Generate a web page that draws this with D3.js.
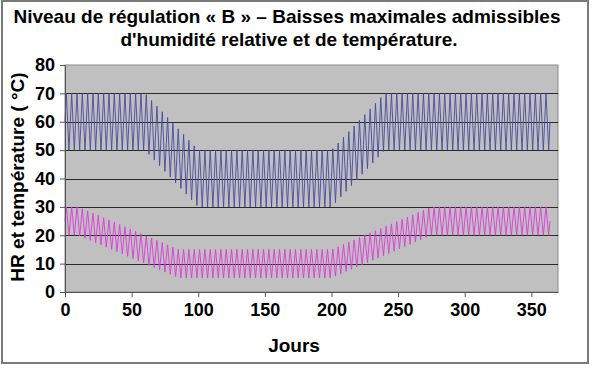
<!DOCTYPE html>
<html>
<head>
<meta charset="utf-8">
<script src="https://cdn.jsdelivr.net/npm/d3@7"></script>
<style>
  body { margin: 0; background: white; }
  svg text { font-family: "Liberation Sans", Arial, sans-serif; font-weight: bold; fill: black; }
</style>
</head>
<body>
<div class="chart"></div>
<script>
const titleLines = ['Niveau de régulation « B » – Baisses maximales admissibles', "d'humidité relative et de température."];
const xTicks = [0, 50, 100, 150, 200, 250, 300, 350];
const yTicks = [0, 10, 20, 30, 40, 50, 60, 70, 80];

// HR (%) jour par jour
const hr = [
  60,70,60,50,60,70,60,50,60,70,60,50,60,70,60,50,60,70,60,50,
  60,70,60,50,60,70,60,50,60,70,60,50,60,70,60,50,60,70,60,50,
  60,70,60,50,60,70,60,50,60,70,60,50,60,70,60,50,60,70,60,50,
  60,69.5,59,48.5,58,67.5,57,46.5,56,65.5,55,44.5,54,63.5,53,42.5,52,61.5,51,40.5,
  50,59.5,49,38.5,48,57.5,47,36.5,46,55.5,45,34.5,44,53.5,43,32.5,42,51.5,41,30.5,
  40,50,40,30,40,50,40,30,40,50,40,30,40,50,40,30,40,50,40,30,
  40,50,40,30,40,50,40,30,40,50,40,30,40,50,40,30,40,50,40,30,
  40,50,40,30,40,50,40,30,40,50,40,30,40,50,40,30,40,50,40,30,
  40,50,40,30,40,50,40,30,40,50,40,30,40,50,40,30,40,50,40,30,
  40,50,40,30,40,50,40,30,40,50,40,30,40,50,40,30,40,50,40,30,
  40,50.5,41,31.5,42,52.5,43,33.5,44,54.5,45,35.5,46,56.5,47,37.5,48,58.5,49,39.5,
  50,60.5,51,41.5,52,62.5,53,43.5,54,64.5,55,45.5,56,66.5,57,47.5,58,68.5,59,49.5,
  60,70,60,50,60,70,60,50,60,70,60,50,60,70,60,50,60,70,60,50,
  60,70,60,50,60,70,60,50,60,70,60,50,60,70,60,50,60,70,60,50,
  60,70,60,50,60,70,60,50,60,70,60,50,60,70,60,50,60,70,60,50,
  60,70,60,50,60,70,60,50,60,70,60,50,60,70,60,50,60,70,60,50,
  60,70,60,50,60,70,60,50,60,70,60,50,60,70,60,50,60,70,60,50,
  60,70,60,50,60,70,60,50,60,70,60,50,60,70,60,50,60,70,60,50,
  60,70,60,50,60
];

// Température (°C) jour par jour
const temp = [
  25,30,25,20,25,30,25,20,25,30,25,19.8,24.6,29.4,24.2,19,23.8,28.6,23.4,18.2,
  23,27.8,22.6,17.4,22.2,27,21.8,16.6,21.4,26.2,21,15.8,20.6,25.4,20.2,15,19.8,24.6,19.4,14.2,
  19,23.8,18.6,13.4,18.2,23,17.8,12.6,17.4,22.2,17,11.8,16.6,21.4,16.2,11,15.8,20.6,15.4,10.2,
  15,19.8,14.6,9.4,14.2,19,13.8,8.6,13.4,18.2,13,7.8,12.6,17.4,12.2,7,11.8,16.6,11.4,6.2,
  11,15.8,10.6,5.4,10.2,15,10,5,10,15,10,5,10,15,10,5,10,15,10,5,
  10,15,10,5,10,15,10,5,10,15,10,5,10,15,10,5,10,15,10,5,
  10,15,10,5,10,15,10,5,10,15,10,5,10,15,10,5,10,15,10,5,
  10,15,10,5,10,15,10,5,10,15,10,5,10,15,10,5,10,15,10,5,
  10,15,10,5,10,15,10,5,10,15,10,5,10,15,10,5,10,15,10,5,
  10,15,10,5,10,15,10,5,10,15,10,5,10,15,10,5,10,15,10,5,
  10,15.2,10.4,5.6,10.8,16,11.2,6.4,11.6,16.8,12,7.2,12.4,17.6,12.8,8,13.2,18.4,13.6,8.8,
  14,19.2,14.4,9.6,14.8,20,15.2,10.4,15.6,20.8,16,11.2,16.4,21.6,16.8,12,17.2,22.4,17.6,12.8,
  18,23.2,18.4,13.6,18.8,24,19.2,14.4,19.6,24.8,20,15.2,20.4,25.6,20.8,16,21.2,26.4,21.6,16.8,
  22,27.2,22.4,17.6,22.8,28,23.2,18.4,23.6,28.8,24,19.2,24.4,29.6,24.8,20,25,30,25,20,
  25,30,25,20,25,30,25,20,25,30,25,20,25,30,25,20,25,30,25,20,
  25,30,25,20,25,30,25,20,25,30,25,20,25,30,25,20,25,30,25,20,
  25,30,25,20,25,30,25,20,25,30,25,20,25,30,25,20,25,30,25,20,
  25,30,25,20,25,30,25,20,25,30,25,20,25,30,25,20,25,30,25,20,
  25,30,25,20,25
];

const days = d3.range(hr.length);

function draw() {
  const W = 592, H = 369;
  const margin = { top: 65, right: 34, bottom: 77, left: 65 };
  const width = W - margin.left - margin.right;
  const height = H - margin.top - margin.bottom;

  const svg = d3.select('.chart').append('svg')
    .attr('width', W)
    .attr('height', H);

  // cadre extérieur
  svg.append('rect')
    .attr('x', 2).attr('y', 1)
    .attr('width', 586).attr('height', 362)
    .style('fill', 'white')
    .style('stroke', '#7a7a7a')
    .style('stroke-width', 2);

  svg.append('g').selectAll('text')
    .data(titleLines)
    .enter()
    .append('text')
    .attr('x', (d, i) => i === 0 ? 287 : 289)
    .attr('y', (d, i) => 23 + i * 23)
    .attr('text-anchor', 'middle')
    .style('font-size', '19px')
    .text(d => d);

  const g = svg.append('g')
    .attr('transform', `translate(${margin.left}, ${margin.top})`);

  const xScale = d3.scaleLinear().domain([0, 370]).range([0, width]);
  const yScale = d3.scaleLinear().domain([0, 80]).range([height, 0]);

  g.append('rect')
    .attr('width', width).attr('height', height)
    .style('fill', '#c0c0c0')
    .style('stroke', '#8a8a8a')
    .style('stroke-width', 1);

  // grille
  g.append('g').selectAll('line')
    .data(yTicks.filter(d => d > 0 && d < 80))
    .enter()
    .append('line')
    .attr('x1', 0).attr('x2', width)
    .attr('y1', d => Math.round(yScale(d)) + 0.5)
    .attr('y2', d => Math.round(yScale(d)) + 0.5)
    .style('stroke', '#2a2a2a')
    .style('stroke-width', 1);

  const line = d3.line()
    .x((d, i) => xScale(days[i]))
    .y(d => yScale(d));

  g.append('path')
    .datum(hr)
    .attr('d', line)
    .style('fill', 'none')
    .style('stroke', '#4a4aa0')
    .style('stroke-width', 0.9);

  g.append('path')
    .datum(temp)
    .attr('d', line)
    .style('fill', 'none')
    .style('stroke', '#e038e0')
    .style('stroke-width', 0.9);

  const xAxis = g.append('g')
    .attr('transform', `translate(0, ${height})`)
    .call(d3.axisBottom(xScale).tickValues(xTicks).tickSize(5).tickPadding(6).tickSizeOuter(0));
  xAxis.select('.domain').style('stroke', '#555');
  xAxis.selectAll('.tick line').style('stroke', '#555');
  xAxis.selectAll('text').style('font-size', '18px').attr('font-family', null).attr('font-size', null);

  const yAxis = g.append('g')
    .call(d3.axisLeft(yScale).tickValues(yTicks).tickSize(5).tickPadding(5).tickSizeOuter(0));
  yAxis.select('.domain').style('stroke', '#555');
  yAxis.selectAll('.tick line').style('stroke', '#555');
  yAxis.selectAll('text').style('font-size', '18px').attr('font-family', null).attr('font-size', null);

  svg.append('text')
    .attr('x', 294)
    .attr('y', 352)
    .attr('text-anchor', 'middle')
    .style('font-size', '19px')
    .text('Jours');

  svg.append('text')
    .attr('transform', `translate(24, ${margin.top + 112}) rotate(-90)`)
    .attr('text-anchor', 'middle')
    .style('font-size', '19px')
    .text('HR et température ( °C)');
}

draw();
</script>
</body>
</html>
